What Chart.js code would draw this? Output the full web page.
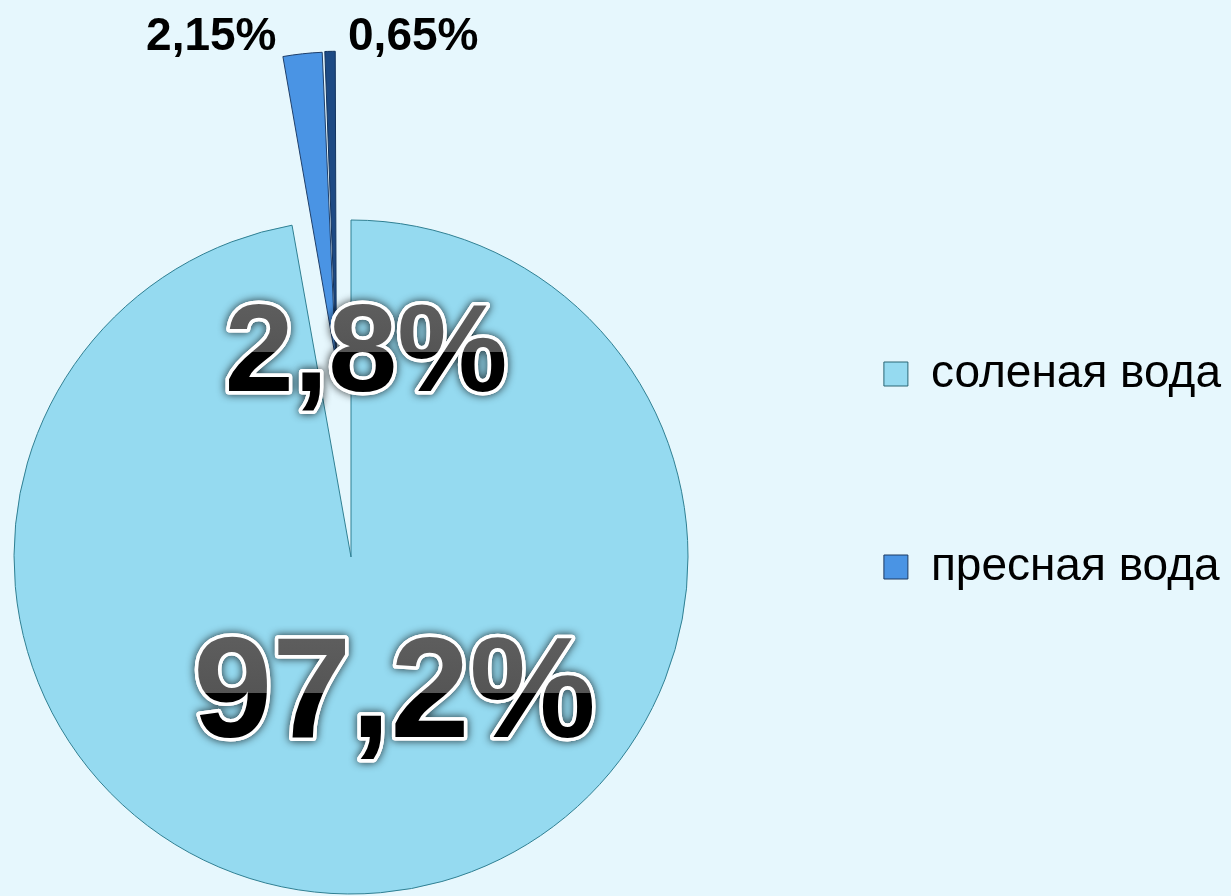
<!DOCTYPE html>
<html>
<head>
<meta charset="utf-8">
<script src="https://cdn.jsdelivr.net/npm/chart.js@4.4.1/dist/chart.umd.min.js"></script>
<style>
  html, body { margin: 0; padding: 0; background: #e6f7fd; overflow: hidden; }
  #wrap { position: relative; width: 1231px; height: 896px; overflow: hidden; }
  #fresh, #pie { position: absolute; }
  /* the sliver chart carries the legend; shifted so its pie centre sits in the gap */
  #fresh { left: -64px; top: -5px; }
  #pie { left: 0; top: 0; }
</style>
</head>
<body>
<div id="wrap">
  <canvas id="fresh" width="1295" height="901"></canvas>
  <canvas id="pie" width="1231" height="896"></canvas>
</div>
<script>
const waterLabels = ['соленая вода', 'пресная вода'];
const waterShares = [97.2, 2.8];
const freshShares = [2.15, 0.65];

const SALT = '#95daf0';
const SALT_EDGE = '#2f7f92';
const FRESH = '#4a94e4';
const FRESH_EDGE = '#1f3f6a';
const DEEP = '#1d4a84';
const DEEP_EDGE = '#12335e';
const NONE = 'rgba(0,0,0,0)';

const fmt = v => String(v).replace('.', ',') + '%';

Chart.defaults.font.family = '"Liberation Sans", Arial, sans-serif';

function drawGlassText(ctx, text, x, y, size) {
    ctx.save();
    ctx.font = `bold ${size}px "Liberation Sans", Arial, sans-serif`;
    ctx.textAlign = 'center';
    ctx.textBaseline = 'alphabetic';
    ctx.lineJoin = 'round';
    ctx.shadowColor = 'rgba(0,0,0,0.85)';
    ctx.shadowBlur = 8;
    ctx.lineWidth = 7;
    ctx.strokeStyle = '#ffffff';
    ctx.strokeText(text, x, y);
    ctx.shadowColor = NONE;
    ctx.shadowBlur = 0;
    ctx.strokeText(text, x, y);
    const top = y - size * 0.72;
    const g = ctx.createLinearGradient(0, top, 0, y);
    g.addColorStop(0, '#5e5e5e');
    g.addColorStop(0.57, '#555555');
    g.addColorStop(0.57, '#000000');
    g.addColorStop(1, '#000000');
    ctx.fillStyle = g;
    ctx.fillText(text, x, y);
    ctx.restore();
}

const bigTags = {
    id: 'bigTags',
    afterDraw(chart) {
        const arc = chart.getDatasetMeta(0).data[0];
        const r = arc.outerRadius;
        drawGlassText(chart.ctx, fmt(waterShares[0]), arc.x + 0.129 * r, arc.y + 0.535 * r, 142);
        drawGlassText(chart.ctx, fmt(waterShares[1]), arc.x + 0.045 * r, arc.y - 0.494 * r, 124);
    }
};

const freshTags = {
    id: 'freshTags',
    afterDatasetsDraw(chart) {
        const ctx = chart.ctx;
        const arcs = chart.getDatasetMeta(0).data;
        ctx.save();
        ctx.font = 'bold 46px "Liberation Sans", Arial, sans-serif';
        ctx.fillStyle = '#000';
        ctx.textBaseline = 'alphabetic';
        freshShares.forEach((v, i) => {
            const arc = arcs[i + 1];
            const shift = (arc.options.offset || 0) / 4;
            const fix = 1 - Math.sin(Math.min(Math.PI, arc.circumference));
            const reach = shift + arc.outerRadius + shift * fix;
            const mid = (arc.startAngle + arc.endAngle) / 2;
            const px = arc.x + Math.cos(mid) * reach;
            const py = arc.y + Math.sin(mid) * reach;
            if (i === 0) {
                ctx.textAlign = 'right';
                ctx.fillText(fmt(v), px - 26, py - 4);
            } else {
                ctx.textAlign = 'left';
                ctx.fillText(fmt(v), px + 18, py - 1);
            }
        });
        ctx.restore();
    }
};

// exploded fresh water slivers + legend
new Chart(document.getElementById('fresh'), {
    type: 'pie',
    data: {
        labels: ['', ...freshShares.map(fmt)],
        datasets: [{
            data: [waterShares[0], ...freshShares],
            backgroundColor: [NONE, FRESH, DEEP],
            borderColor: [NONE, FRESH_EDGE, DEEP_EDGE],
            borderWidth: [0, 1, 1],
            offset: [0, 28, 28],
            radius: 301
        }]
    },
    options: {
        responsive: false,
        animation: false,
        events: [],
        layout: { padding: { left: 0, right: 0, top: 0, bottom: 159 } },
        plugins: {
            tooltip: { enabled: false },
            legend: {
                position: 'right',
                align: 'end',
                labels: {
                    font: { size: 46 },
                    color: '#111111',
                    boxWidth: 24,
                    boxHeight: 24,
                    padding: 147,
                    generateLabels: () => [
                        { text: waterLabels[0], fillStyle: SALT, strokeStyle: '#2a6675', lineWidth: 1, hidden: false, index: 0 },
                        { text: waterLabels[1], fillStyle: FRESH, strokeStyle: '#1d3a62', lineWidth: 1, hidden: false, index: 1 }
                    ]
                }
            }
        }
    },
    plugins: [freshTags]
});

// main pie: salt water with the empty fresh water gap
new Chart(document.getElementById('pie'), {
    type: 'pie',
    data: {
        labels: waterLabels,
        datasets: [{
            data: waterShares,
            backgroundColor: [SALT, NONE],
            borderColor: [SALT_EDGE, NONE],
            borderWidth: [1, 0],
            radius: 337
        }]
    },
    options: {
        responsive: false,
        animation: false,
        events: [],
        layout: { padding: { left: 0, right: 529, top: 218, bottom: 0 } },
        plugins: {
            tooltip: { enabled: false },
            legend: { display: false }
        }
    },
    plugins: [bigTags]
});
</script>
</body>
</html>
